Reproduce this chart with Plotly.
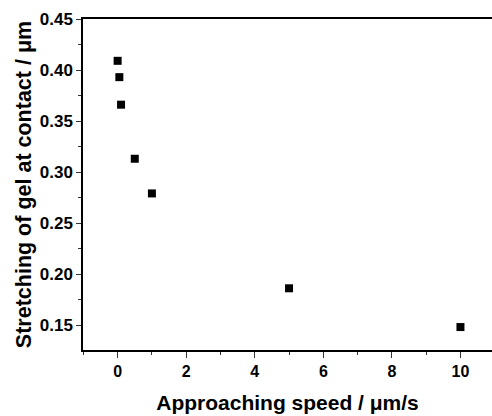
import plotly.graph_objects as go

speed = [0.0, 0.05, 0.1, 0.5, 1.0, 5.0, 10.0]
stretch = [0.409, 0.393, 0.366, 0.313, 0.279, 0.186, 0.148]

x_ticks = [0, 2, 4, 6, 8, 10]
y_ticks = [0.15, 0.20, 0.25, 0.30, 0.35, 0.40, 0.45]

font = "Liberation Sans, Arial, sans-serif"

fig = go.Figure()
fig.add_trace(go.Scatter(
    x=speed, y=stretch, mode="markers",
    marker=dict(symbol="square", size=8, color="black", line=dict(width=0)),
    showlegend=False,
))

fig.update_layout(
    width=492, height=416,
    margin=dict(l=83, r=0, t=19, b=66),
    paper_bgcolor="white", plot_bgcolor="white",
    font=dict(family=font, color="black"),
    xaxis=dict(
        range=[-1.01, 10.92],
        tickvals=x_ticks, ticktext=[str(v) for v in x_ticks],
        ticks="outside", ticklen=6, tickwidth=1.2, tickcolor="#333",
        minor=dict(dtick=1, tick0=1, ticks="outside", ticklen=3, tickwidth=1.2, tickcolor="#333", showgrid=False),
        showline=True, linecolor="black", linewidth=1.5, mirror=True,
        showgrid=False, zeroline=False,
        tickfont=dict(size=16, family=font, weight="bold"),
        title=dict(text="<b>Approaching speed / μm/s</b>", font=dict(size=21, family=font), standoff=16),
    ),
    yaxis=dict(
        range=[0.1255, 0.45],
        tickvals=y_ticks, ticktext=[f"{v:.2f}" for v in y_ticks],
        ticks="outside", ticklen=5, tickwidth=1.2, tickcolor="#333",
        minor=dict(dtick=0.025, tick0=0.125, ticks="outside", ticklen=3, tickwidth=1.2, tickcolor="#333", showgrid=False),
        showline=True, linecolor="black", linewidth=1.5, mirror=False,
        showgrid=False, zeroline=False,
        tickfont=dict(size=17, family=font, weight="bold"),
        title=dict(text="<b>Stretching of gel at contact / μm</b>", font=dict(size=21.5, family=font), standoff=2),
    ),
)

fig.write_html("out.html")
